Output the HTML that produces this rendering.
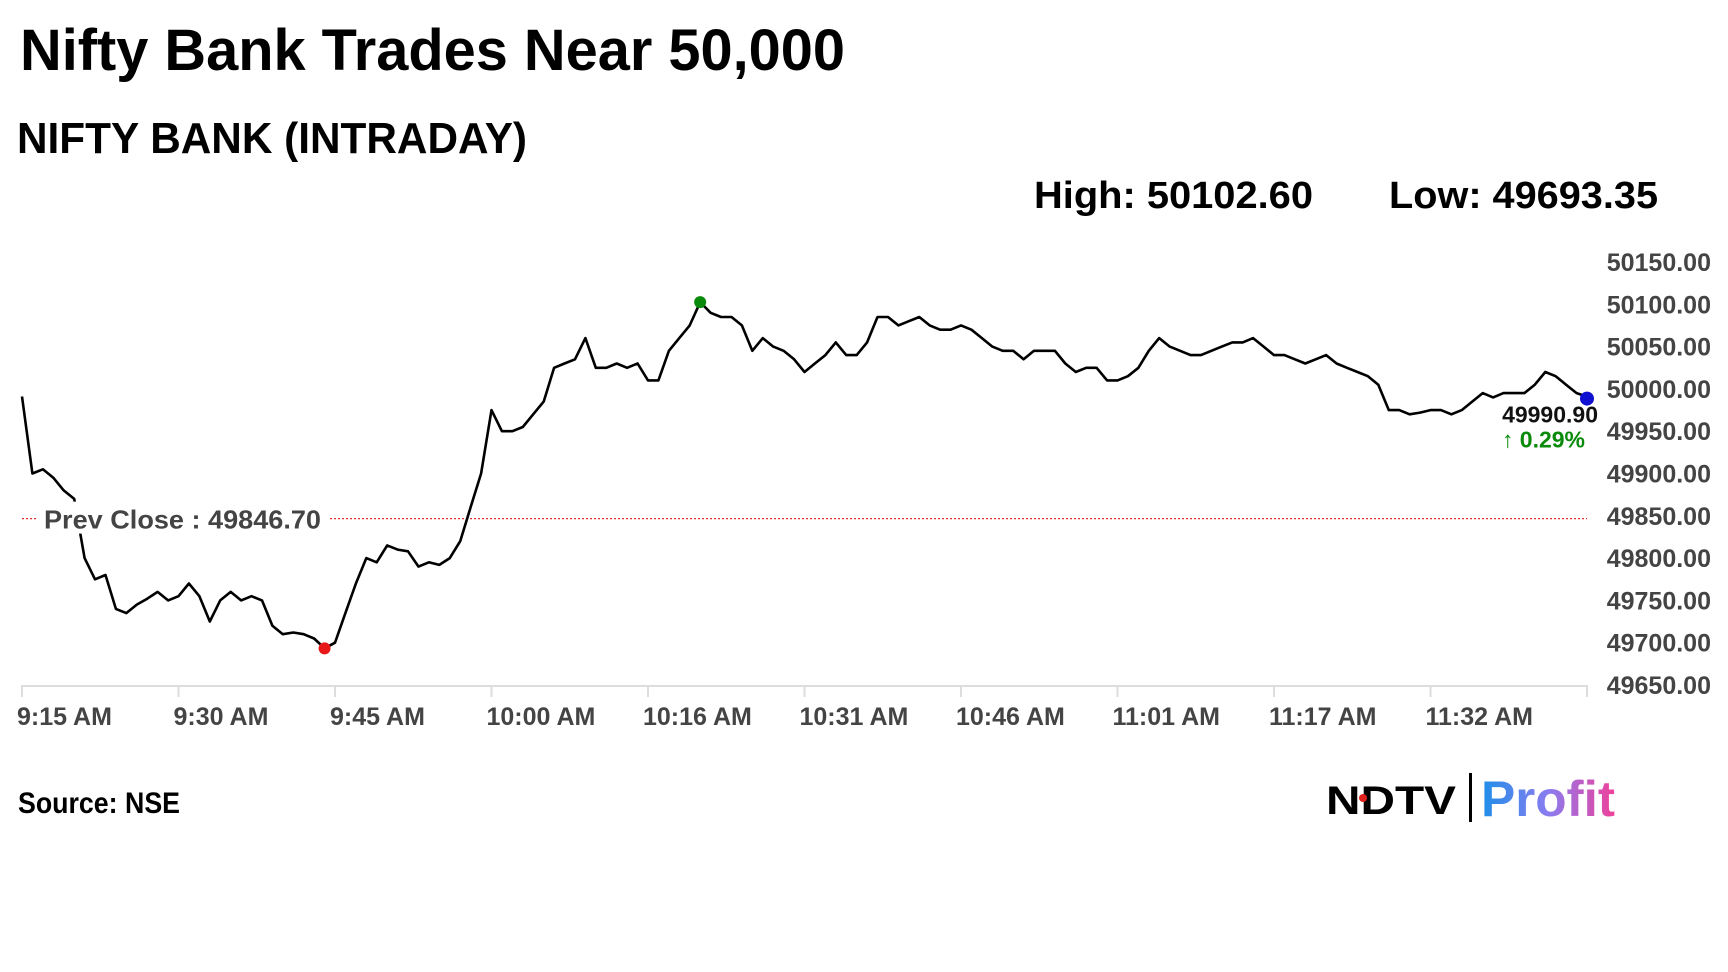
<!DOCTYPE html>
<html><head><meta charset="utf-8"><style>
html,body{margin:0;padding:0;background:#fff;}
svg{display:block;font-family:"Liberation Sans",Arial,sans-serif;}
</style></head><body>
<svg id="chart" width="1728" height="972" viewBox="0 0 1728 972" xmlns="http://www.w3.org/2000/svg">
<defs>
<linearGradient id="pg" x1="0" x2="1" y1="0" y2="0"><stop offset="0" stop-color="#1e8fe8"/><stop offset="0.5" stop-color="#8a7cf0"/><stop offset="1" stop-color="#f0409a"/></linearGradient>
</defs>
<text x="20" y="70" font-size="58" font-weight="bold" fill="#000" textLength="825" lengthAdjust="spacingAndGlyphs">Nifty Bank Trades Near 50,000</text>
<text x="17" y="153" font-size="44" font-weight="bold" fill="#000" textLength="510" lengthAdjust="spacingAndGlyphs">NIFTY BANK (INTRADAY)</text>
<text x="1034" y="208" font-size="38" font-weight="bold" fill="#000" textLength="279" lengthAdjust="spacingAndGlyphs">High: 50102.60</text>
<text x="1389" y="208" font-size="38" font-weight="bold" fill="#000" textLength="269" lengthAdjust="spacingAndGlyphs">Low: 49693.35</text>
<g id="axes"></g>
<g id="plot"></g>
<text x="18" y="813" font-size="30" font-weight="bold" fill="#000" textLength="162" lengthAdjust="spacingAndGlyphs">Source: NSE</text>
<g>
<text x="1326" y="814" font-size="40" font-weight="900" fill="#000" textLength="130" lengthAdjust="spacingAndGlyphs">NDTV</text>
<circle cx="1363" cy="798" r="4" fill="#e0201c"/>
<rect x="1469" y="773" width="3" height="49" fill="#000"/>
<text x="1481" y="816" font-size="50" font-weight="bold" fill="url(#pg)" textLength="134" lengthAdjust="spacingAndGlyphs">Profit</text>
</g>
</svg>
<script>
const values = [49991,49900,49905,49895,49880,49870,49800,49775,49780,49740,49735,49745,49752,49760,49750,49755,49770,49755,49725,49750,49760,49750,49755,49750,49720,49710,49712,49710,49705,49693.35,49700,49735,49770,49800,49795,49815,49810,49808,49790,49795,49792,49800,49820,49860,49900,49975,49950,49950,49955,49970,49985,50025,50030,50035,50060,50025,50025,50030,50025,50030,50010,50010,50045,50060,50075,50102.6,50090,50085,50085,50075,50045,50060,50050,50045,50035,50020,50030,50040,50055,50040,50040,50055,50085,50085,50075,50080,50085,50075,50070,50070,50075,50070,50060,50050,50045,50045,50035,50045,50045,50045,50030,50020,50025,50025,50010,50010,50015,50025,50045,50060,50050,50045,50040,50040,50045,50050,50055,50055,50060,50050,50040,50040,50035,50030,50035,50040,50030,50025,50020,50015,50005,49975,49975,49970,49972,49975,49975,49970,49975,49985,49995,49990,49995,49995,49995,50005,50020,50015,50005,49995,49990.9];
const yTicks = [49650,49700,49750,49800,49850,49900,49950,50000,50050,50100,50150];
const xTickLabels = ["9:15 AM","9:30 AM","9:45 AM","10:00 AM","10:16 AM","10:31 AM","10:46 AM","11:01 AM","11:17 AM","11:32 AM",""];
const prevClose = [49846.70];
const totalPoints = [151];

const NS="http://www.w3.org/2000/svg";
const X0=22,X1=1587,Y0=685,Y1=262,VMIN=49650,VMAX=50150;
const xs=i=>X0+(X1-X0)*i/(totalPoints[0]-1);
const ys=v=>Y0-(v-VMIN)/(VMAX-VMIN)*(Y0-Y1);
function mk(tag,attrs,parent){const e=document.createElementNS(NS,tag);for(const k in attrs)e.setAttribute(k,attrs[k]);parent.appendChild(e);return e;}
const axes=document.getElementById('axes'),plot=document.getElementById('plot');

const ax=mk('line',{x1:X0,x2:X1,y1:Y0+1,y2:Y0+1,stroke:'#ddd','stroke-width':2},axes);


yTicks.forEach(t=>{
  const tx=mk('text',{x:1711,y:ys(t)+9,'text-anchor':'end','font-size':25,'font-weight':'bold',fill:'#444'},axes);
  tx.textContent=t.toFixed(2);
  
  
});
const step=(X1-X0)/(xTickLabels.length-1);
xTickLabels.forEach((l,i)=>{
  const x=X0+step*i;
  const tk=mk('line',{x1:x,x2:x,y1:Y0,y2:Y0+12,stroke:'#ddd','stroke-width':2},axes);
  
  
  if(l){
    const tx=mk('text',{x:x-5,y:725,'font-size':25,'font-weight':'bold',fill:'#444'},axes);
    tx.textContent=l;
    
    
  }
});
const pcY=ys(prevClose[0]);
const pl=mk('line',{x1:X0,x2:X1,y1:pcY,y2:pcY,stroke:'#d33','stroke-width':1.3,'stroke-dasharray':'2,2'},plot);



let d='';values.forEach((v,i)=>{d+=(i?'L':'M')+xs(i).toFixed(1)+','+ys(v).toFixed(1);});
const path=mk('path',{d:d,fill:'none',stroke:'#000','stroke-width':2.6,'stroke-linejoin':'round'},plot);



const bg=mk('rect',{x:38,y:pcY-17,width:292,height:32,fill:'#fff'},plot);


const pt=mk('text',{x:44,y:pcY+10,'font-size':26,'font-weight':'bold',fill:'#444',textLength:277,lengthAdjust:'spacingAndGlyphs'},plot);
pt.textContent='Prev Close : '+prevClose[0].toFixed(2);



let hi=0,lo=0;values.forEach((v,i)=>{if(v>values[hi])hi=i;if(v<values[lo])lo=i;});
const hd=mk('circle',{cx:xs(hi),cy:ys(values[hi]),r:6,fill:'#0a8a0a'},plot);


const ld=mk('circle',{cx:xs(lo),cy:ys(values[lo]),r:6,fill:'#e81818'},plot);


const last=values.length-1;
const ed=mk('circle',{cx:xs(last),cy:ys(values[last])+2,r:7,fill:'#1010d0'},plot);


const lt=mk('text',{x:1598,y:ys(values[last])+26,'text-anchor':'end','font-size':23,'font-weight':'bold',fill:'#111'},plot);
lt.textContent=values[last].toFixed(2);


const ch=mk('text',{x:1585,y:ys(values[last])+51,'text-anchor':'end','font-size':23,'font-weight':'bold',fill:'#0a8a0a'},plot);
ch.textContent='\u2191 '+((values[last]-prevClose[0])/prevClose[0]*100).toFixed(2)+'%';


</script>
</body></html>
